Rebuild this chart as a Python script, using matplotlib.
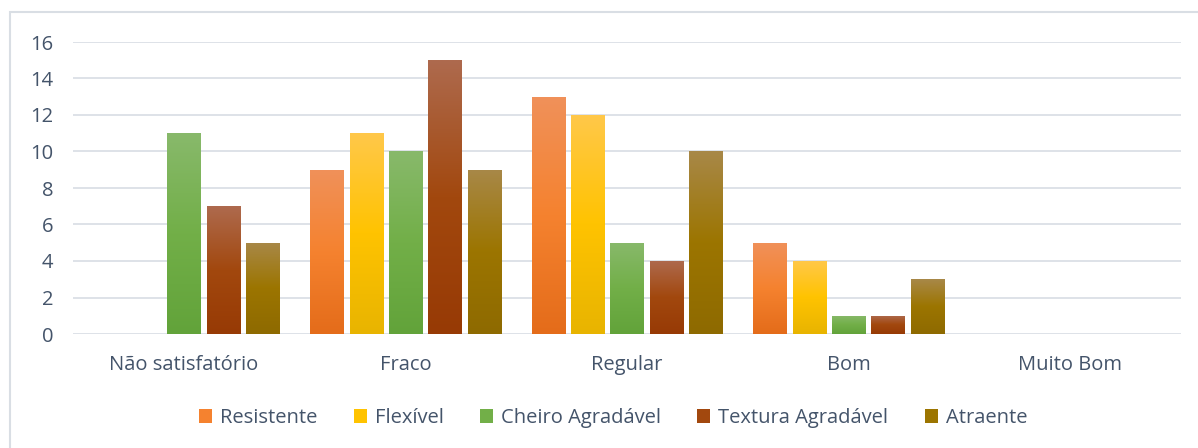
import numpy as np
import matplotlib.pyplot as plt
import matplotlib as mpl
from matplotlib.colors import LinearSegmentedColormap
from matplotlib.patches import Rectangle

mpl.rcParams['font.family'] = ['Open Sans', 'DejaVu Sans']

# ---------------------------------------------------------------------------
# Data
# ---------------------------------------------------------------------------
categories = ['Não satisfatório', 'Fraco', 'Regular', 'Bom', 'Muito Bom']
series = ['Resistente', 'Flexível', 'Cheiro Agradável', 'Textura Agradável', 'Atraente']
resistente = [0, 9, 13, 5, 0]
flexivel = [0, 11, 12, 4, 0]
cheiro = [11, 10, 5, 1, 0]
textura = [7, 15, 4, 1, 0]
atraente = [5, 9, 10, 3, 0]
values = [resistente, flexivel, cheiro, textura, atraente]

# (top, middle, bottom) gradient stops per series
gradients = [
    ('#F0915A', '#F5822F', '#E46C1A'),
    ('#FFC84A', '#FFC300', '#E8B400'),
    ('#88B96B', '#72AF48', '#62A33A'),
    ('#AE6A4E', '#A2480E', '#973A05'),
    ('#A88848', '#9C7500', '#8E6A00'),
]
text_color = '#44546A'
grid_color = '#DEE2E8'

# ---------------------------------------------------------------------------
# Figure
# ---------------------------------------------------------------------------
fig = plt.figure(figsize=(11.98, 4.48), dpi=100)
ax = fig.add_axes([73 / 1198, 1 - 334 / 448, (1181 - 73) / 1198, (334 - 42) / 448])

# chart frame (only top/left visible in the crop)
fig.patches.append(Rectangle((9.5 / 1198, -0.1), 1.2, 1.1 - 12.5 / 448,
                             transform=fig.transFigure, fill=False,
                             edgecolor='#D9DEE4', linewidth=1.5, zorder=0))

x = np.arange(len(categories))
pitch = 0.1775
width = 0.149
grad = np.linspace(0, 1, 256).reshape(-1, 1)

for i, (name, vals, stops) in enumerate(zip(series, values, gradients)):
    cmap = LinearSegmentedColormap.from_list(name, [stops[2], stops[1], stops[0]])
    offs = (i - 2) * pitch
    bars = ax.bar(x + offs, vals, width, color='none', edgecolor='none', zorder=2)
    for b, v in zip(bars, vals):
        if v <= 0:
            continue
        x0 = b.get_x()
        im = ax.imshow(grad, cmap=cmap, aspect='auto', origin='lower',
                       extent=(x0, x0 + width, 0, v), zorder=2)
        im.set_clip_path(b)

ax.set_xlim(-0.5, len(categories) - 0.5)
ax.set_ylim(0, 16)
ax.set_yticks(range(0, 17, 2))
ax.set_xticks(x)
ax.set_xticklabels(categories)

ax.grid(axis='y', color=grid_color, linewidth=1.4, zorder=0)
ax.set_axisbelow(True)
for s in ax.spines.values():
    s.set_visible(False)
ax.tick_params(axis='both', length=0, labelsize=14.5, colors=text_color)
ax.tick_params(axis='y', pad=14)
ax.tick_params(axis='x', pad=15)

handles = [Rectangle((0, 0), 1, 1, facecolor=g[1], edgecolor='none') for g in gradients]
fig.legend(handles, series, loc='center', bbox_to_anchor=(613 / 1198, 1 - 418 / 448),
           ncol=5, frameon=False, fontsize=14.5, labelcolor=text_color,
           handlelength=0.65, handleheight=0.65, handletextpad=0.4, columnspacing=1.8)

fig.savefig('out.png', dpi=100, facecolor='white')
